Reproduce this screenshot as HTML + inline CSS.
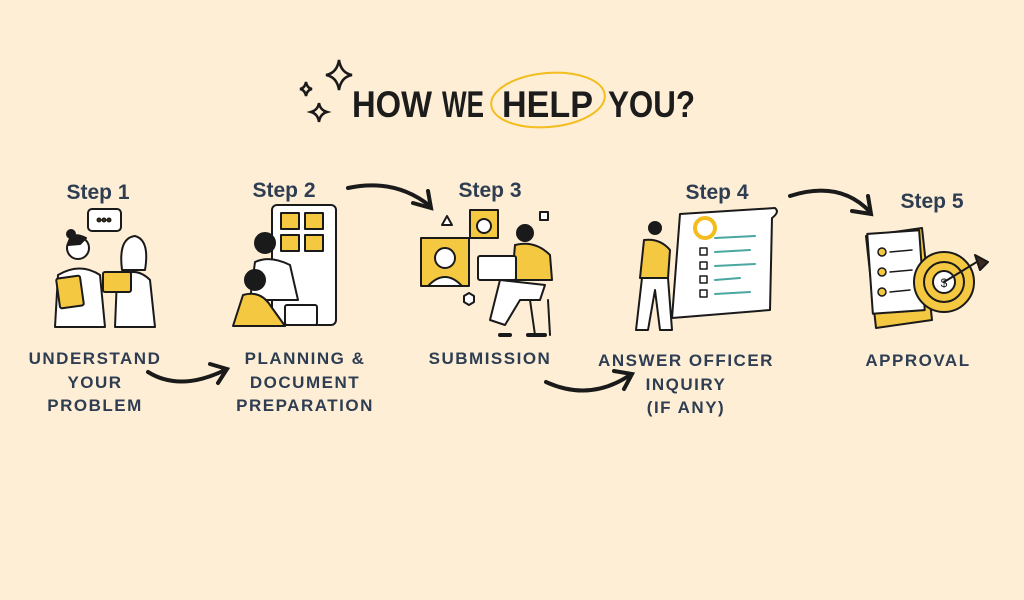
<!DOCTYPE html>
<html><head><meta charset="utf-8"><style>
html,body{margin:0;padding:0;background:#fdeed5;}
svg{display:block}
.st{font-family:"Liberation Sans",sans-serif;font-weight:bold;fill:#2e3d52;font-size:21px;text-anchor:middle}
.lb{font-family:"Liberation Sans",sans-serif;font-weight:bold;fill:#2e3d52;font-size:17px;text-anchor:middle;letter-spacing:1.5px}
.o{stroke:#1a1a1a;stroke-width:2;stroke-linejoin:round;stroke-linecap:round}
.tt{font-family:"Liberation Sans",sans-serif;font-weight:bold;font-size:37px;fill:#1c1c1c}
</style></head><body>
<svg width="1024" height="600" viewBox="0 0 1024 600" xmlns="http://www.w3.org/2000/svg">
<rect width="1024" height="600" fill="#fdeed5"/>
<g fill="none" stroke="#1a1a1a" stroke-width="2.5">
<path d="M339 60 Q341 73 352 75 Q341 77 339 90 Q337 77 326 75 Q337 73 339 60Z"/>
<path d="M306 82 Q307 88 312 89 Q307 90 306 96 Q305 90 300 89 Q305 88 306 82Z"/>
<path d="M319 103 Q320 110 327 112 Q320 114 319 122 Q318 114 311 112 Q318 110 319 103Z"/>
</g>
<text class="tt" x="352" y="117" textLength="80" lengthAdjust="spacingAndGlyphs">HOW</text>
<text class="tt" x="442" y="117" textLength="42" lengthAdjust="spacingAndGlyphs">WE</text>
<text class="tt" x="502" y="117" textLength="91" lengthAdjust="spacingAndGlyphs">HELP</text>
<text class="tt" x="608" y="117" textLength="87" lengthAdjust="spacingAndGlyphs">YOU?</text>
<ellipse cx="548" cy="100" rx="57" ry="27" fill="none" stroke="#f2bd1d" stroke-width="2" transform="rotate(-5 548 100)"/>
<text class="st" x="98" y="199">Step 1</text>
<text class="st" x="284" y="197">Step 2</text>
<text class="st" x="490" y="197">Step 3</text>
<text class="st" x="717" y="199">Step 4</text>
<text class="st" x="932" y="208">Step 5</text>
<text class="lb" x="95" y="364">UNDERSTAND</text>
<text class="lb" x="95" y="388">YOUR</text>
<text class="lb" x="95" y="411">PROBLEM</text>
<text class="lb" x="305" y="364">PLANNING &amp;</text>
<text class="lb" x="305" y="388">DOCUMENT</text>
<text class="lb" x="305" y="411">PREPARATION</text>
<text class="lb" x="490" y="364">SUBMISSION</text>
<text class="lb" x="686" y="366">ANSWER OFFICER</text>
<text class="lb" x="686" y="390">INQUIRY</text>
<text class="lb" x="686" y="413">(IF ANY)</text>
<text class="lb" x="918" y="366">APPROVAL</text>
<g fill="none" stroke="#1a1a1a" stroke-width="4" stroke-linecap="round">
<path d="M148 372 Q180 392 225 370"/><path d="M210 364 L227 369 L218 383"/>
<path d="M348 188 Q395 178 430 206"/><path d="M413 203 L431 208 L428 191"/>
<path d="M546 382 Q590 402 630 375"/><path d="M614 371 L632 374 L624 389"/>
<path d="M790 196 Q840 180 870 212"/><path d="M852 211 L871 214 L868 196"/>
</g>
<g class="o">
<rect x="88" y="209" width="33" height="22" rx="4" fill="#fff"/>
<circle cx="99" cy="220" r="1.5" fill="#e0a800"/><circle cx="104" cy="220" r="1.5" fill="#e0a800"/><circle cx="109" cy="220" r="1.5" fill="#e0a800"/>
<path d="M55 327 L58 275 Q80 262 100 275 L105 327Z" fill="#fff"/>
<circle cx="78" cy="248" r="11" fill="#fff"/><path d="M68 245 Q70 230 86 238 L80 244Z" fill="#1a1a1a"/><circle cx="71" cy="234" r="4" fill="#1a1a1a"/>
<rect x="58" y="277" width="24" height="30" rx="2" fill="#f5c842" transform="rotate(-8 70 292)"/>
<path d="M115 327 L117 278 Q135 265 150 280 L155 327Z" fill="#fff"/>
<path d="M122 270 Q118 238 135 236 Q150 240 145 270Z" fill="#fff"/>
<rect x="103" y="272" width="28" height="20" rx="2" fill="#f5c842"/>
</g>
<g class="o">
<rect x="272" y="205" width="64" height="120" rx="5" fill="#fff"/>
<rect x="281" y="213" width="18" height="16" fill="#f5c842"/><rect x="305" y="213" width="18" height="16" fill="#f5c842"/>
<rect x="281" y="235" width="18" height="16" fill="#f5c842"/><rect x="305" y="235" width="18" height="16" fill="#f5c842"/>
<circle cx="265" cy="243" r="10" fill="#1a1a1a"/>
<path d="M250 300 L255 262 Q270 255 290 265 L298 300Z" fill="#fff"/>
<circle cx="255" cy="280" r="10" fill="#1a1a1a"/>
<path d="M233 326 L243 295 Q260 290 270 305 L285 326Z" fill="#f5c842"/>
<rect x="285" y="305" width="32" height="20" rx="2" fill="#fff"/>
</g>
<g class="o">
<rect x="470" y="210" width="28" height="28" fill="#f5c842"/><circle cx="484" cy="226" r="7" fill="#fff"/>
<rect x="421" y="238" width="48" height="48" fill="#f5c842"/><circle cx="445" cy="258" r="10" fill="#fff"/><path d="M428 286 Q445 268 462 286Z" fill="#fff"/>
<path d="M447 216 L452 225 L442 225Z" fill="#fff"/><rect x="540" y="212" width="8" height="8" fill="#fff"/>
<path d="M464 296 L469 293 L474 296 L474 302 L469 305 L464 302Z" fill="#fff"/>
<circle cx="525" cy="233" r="8" fill="#1a1a1a"/>
<path d="M512 280 L515 245 Q535 240 550 255 L552 280Z" fill="#f5c842"/>
<path d="M490 320 L500 280 L545 285 L540 300 L520 300 L505 325Z" fill="#fff"/>
<rect x="478" y="256" width="38" height="24" rx="2" fill="#fff"/>
<path d="M530 300 L535 335 M548 300 L550 335" fill="none"/>
<path d="M500 335 L510 335 M528 335 L545 335" stroke-width="4"/>
</g>
<g class="o">
<path d="M680 214 L775 208 Q780 212 772 218 L770 310 L672 318 L680 214Z" fill="#fff"/>
<circle cx="705" cy="228" r="10" fill="#fff" stroke="#f2bd1d" stroke-width="4"/>
<g stroke="#4aa6a0" stroke-width="2"><path d="M715 238 L755 236 M715 252 L750 250 M715 266 L755 264 M715 280 L740 278 M715 294 L750 292"/></g>
<g fill="#fff" stroke-width="1.5"><rect x="700" y="248" width="7" height="7"/><rect x="700" y="262" width="7" height="7"/><rect x="700" y="276" width="7" height="7"/><rect x="700" y="290" width="7" height="7"/></g>
<circle cx="655" cy="228" r="6" fill="#1a1a1a"/>
<path d="M640 278 L644 240 Q660 238 670 250 L668 278Z" fill="#f5c842"/>
<path d="M642 278 L636 330 L648 330 L655 290 L660 330 L672 330 L668 278Z" fill="#fff"/>
</g>
<g class="o">
<path d="M866 236 L922 228 L932 320 L876 328Z" fill="#f5c842"/>
<rect x="870" y="232" width="52" height="80" fill="#fff" transform="rotate(-4 896 272)"/>
<g stroke-width="1.5"><circle cx="882" cy="252" r="4" fill="#f5c842"/><circle cx="882" cy="272" r="4" fill="#f5c842"/><circle cx="882" cy="292" r="4" fill="#f5c842"/>
<path d="M890 252 L912 250 M890 272 L912 270 M890 292 L910 290"/></g>
<circle cx="944" cy="282" r="30" fill="#f5c842"/><circle cx="944" cy="282" r="20" fill="#f5c842"/><circle cx="944" cy="282" r="11" fill="#fff"/>
<text x="944" y="287" font-size="12" text-anchor="middle" font-family="Liberation Sans" stroke="none" fill="#1a1a1a">$</text>
<path d="M944 282 L980 260" fill="none"/><path d="M975 255 L988 262 L980 270Z" fill="#3a2a20"/>
</g>
</svg>
</body></html>
